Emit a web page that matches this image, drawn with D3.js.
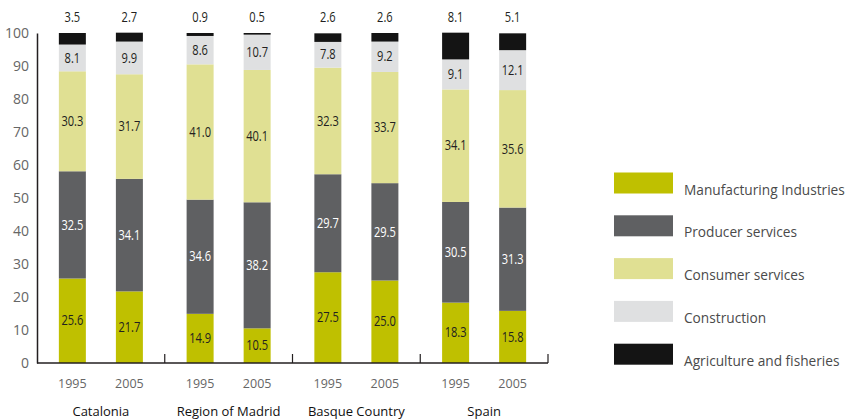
<!DOCTYPE html>
<html><head><meta charset="utf-8">
<script src="https://cdn.jsdelivr.net/npm/d3@7"></script>
<style>body{margin:0;background:#fff}svg{display:block}</style>
</head><body>
<svg id="c" width="847" height="420"></svg>
<script>
const regions = ["Catalonia","Region of Madrid","Basque Country","Spain"];
const years = ["1995","2005"];
const seriesNames = ["Manufacturing Industries","Producer services","Consumer services","Construction","Agriculture and fisheries"];
const seriesColors = ["#bfc000","#5f6062","#e0e093","#dfe0e1","#141414"];
// values per bar, in order: Catalonia 1995, 2005, Madrid 1995, 2005, Basque 1995, 2005, Spain 1995, 2005
const manufacturing = [25.6, 21.7, 14.9, 10.5, 27.5, 25.0, 18.3, 15.8];
const producer      = [32.5, 34.1, 34.6, 38.2, 29.7, 29.5, 30.5, 31.3];
const consumer      = [30.3, 31.7, 41.0, 40.1, 32.3, 33.7, 34.1, 35.6];
const construction  = [8.1, 9.9, 8.6, 10.7, 7.8, 9.2, 9.1, 12.1];
const agriculture   = [3.5, 2.7, 0.9, 0.5, 2.6, 2.6, 8.1, 5.1];
const yTicks = [0,10,20,30,40,50,60,70,80,90,100];

const seriesVals = [manufacturing, producer, consumer, construction, agriculture];
const bars = [];
regions.forEach((r,ri)=>years.forEach((yr,yi)=>{
  const i = ri*2+yi;
  const row = {region:r, year:yr};
  seriesNames.forEach((s,si)=> row[s] = seriesVals[si][i]);
  bars.push(row);
}));

const svg = d3.select("#c");
const y = d3.scaleLinear().domain([0,100]).range([363,33]);
const gx = d3.scaleBand().domain(regions).range([37,548]).padding(0);
const ix = d3.scalePoint().domain(years).range([0,gx.bandwidth()]).padding(0.62);
const bw = 27;
const stack = d3.stack().keys(seriesNames)(bars);
const color = d3.scaleOrdinal().domain(seriesNames).range(seriesColors);
const numFont = "'Open Sans',sans-serif";
const sx = 0.74;
const fmt = d3.format(".1f");

// bars
const layers = svg.append("g").selectAll("g").data(stack).join("g").attr("fill", d=>color(d.key));
layers.selectAll("rect").data(d=>d).join("rect")
  .attr("x", d=>gx(d.data.region)+ix(d.data.year)-bw/2)
  .attr("width", bw)
  .attr("y", d=>y(d[1]))
  .attr("height", d=>y(d[0])-y(d[1]));

// inside labels (first four series)
stack.slice(0,4).forEach((layer,li)=>{
  svg.append("g").selectAll("text").data(layer).join("text")
    .attr("transform", d=>`translate(${gx(d.data.region)+ix(d.data.year)},${y((d[0]+d[1])/2)-1}) scale(${sx},1)`)
    .attr("text-anchor","middle").attr("dominant-baseline","central")
    .attr("font-family",numFont).attr("font-size",15).attr("font-weight",500)
    .attr("fill", li===1 ? "#ffffff" : "#231f20")
    .text(d=>fmt(d.data[layer.key]));
});
// agriculture labels on top
svg.append("g").selectAll("text").data(stack[4]).join("text")
  .attr("transform", d=>`translate(${gx(d.data.region)+ix(d.data.year)},16) scale(${sx},1)`)
  .attr("text-anchor","middle").attr("dominant-baseline","central")
  .attr("font-family",numFont).attr("font-size",15).attr("font-weight",500).attr("fill","#231f20")
  .text(d=>fmt(d.data[stack[4].key]));

// y axis
const yAxis = d3.axisLeft(y).tickValues(yTicks).tickSize(0).tickPadding(8);
const ya = svg.append("g").attr("transform","translate(37,0)").call(yAxis);
ya.select(".domain").attr("stroke","#231f20").attr("stroke-width",1.5);
ya.selectAll("text").attr("font-family","'Open Sans',sans-serif").attr("font-size",14).attr("fill","#666");

// x axis baseline & separators
svg.append("line").attr("x1",37).attr("x2",548).attr("y1",y(0)).attr("y2",y(0))
  .attr("stroke","#231f20").attr("stroke-width",1.5);
svg.append("g").selectAll("line").data(regions).join("line")
  .attr("x1",d=>gx(d)+gx.bandwidth()).attr("x2",d=>gx(d)+gx.bandwidth())
  .attr("y1",y(0)).attr("y2",y(0)-9).attr("stroke","#231f20").attr("stroke-width",1.2);

// year labels
svg.append("g").selectAll("text").data(bars).join("text")
  .attr("x", d=>gx(d.region)+ix(d.year)).attr("y",383)
  .attr("text-anchor","middle").attr("dominant-baseline","central")
  .attr("font-family","'Open Sans',sans-serif").attr("font-size",12.5).attr("fill","#666")
  .text(d=>d.year);
// region labels
svg.append("g").selectAll("text").data(regions).join("text")
  .attr("x", d=>gx(d)+gx.bandwidth()/2).attr("y",411)
  .attr("text-anchor","middle").attr("dominant-baseline","central")
  .attr("font-family","'Open Sans',sans-serif").attr("font-size",13).attr("fill","#111")
  .text(d=>d);

// legend
const lg = svg.append("g").selectAll("g").data(seriesNames).join("g")
  .attr("transform",(d,i)=>`translate(614,${183+i*42.8})`);
lg.append("rect").attr("x",0).attr("y",-10.5).attr("width",59).attr("height",21).attr("fill",d=>color(d));
lg.append("text").attr("x",70).attr("y",6).attr("dominant-baseline","central")
  .attr("font-family","'Open Sans',sans-serif").attr("font-size",13.7).attr("fill","#4a4a4a")
  .text(d=>d);
</script>
</body></html>
